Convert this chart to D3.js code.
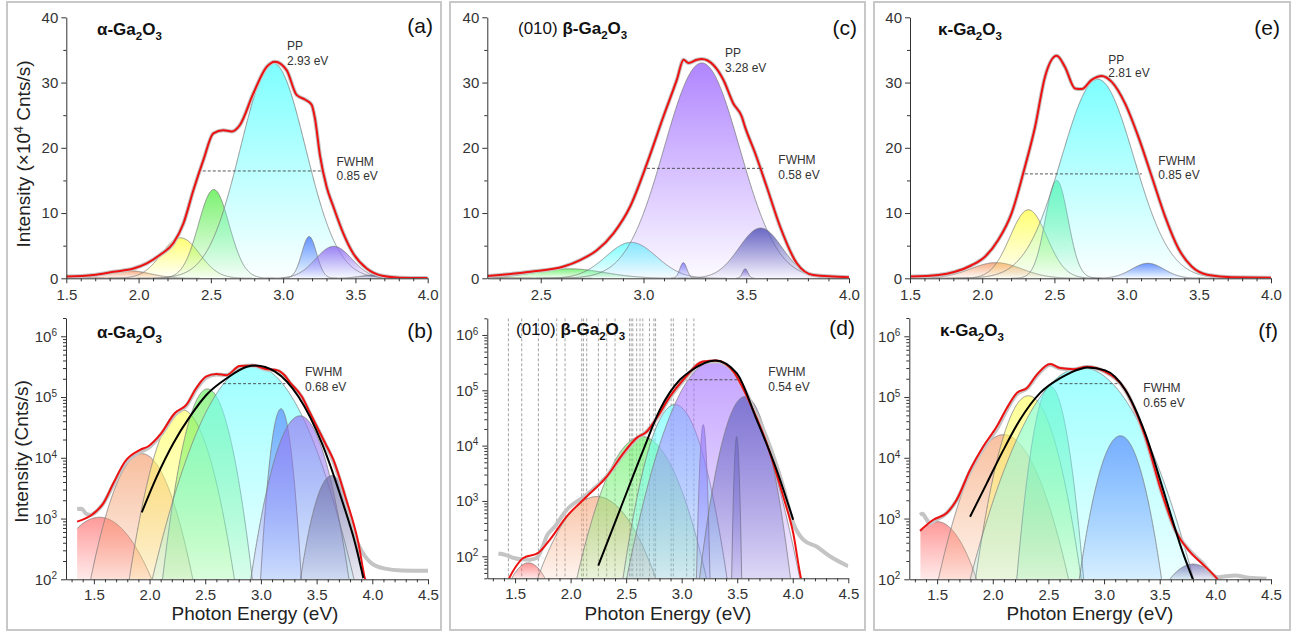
<!DOCTYPE html>
<html>
<head>
<meta charset="utf-8">
<script src="https://cdn.jsdelivr.net/npm/d3@7/dist/d3.min.js"></script>
<style>
body { margin: 0; background: #fff; }
svg { display: block; }
</style>
</head>
<body>
<div id="chart"></div>
<script>
'use strict';

var FONT = '"Liberation Sans", Arial, Helvetica, sans-serif';

// tick labels
var xTicksLin = [1.5, 2.0, 2.5, 3.0, 3.5, 4.0];
var xTicksBetaLin = [2.5, 3.0, 3.5, 4.0];
var xTicksLog = [1.5, 2.0, 2.5, 3.0, 3.5, 4.0, 4.5];
var yTicksLin = [0, 10, 20, 30, 40];
var yTicksLog = [1e2, 1e3, 1e4, 1e5, 1e6];

// fitted gaussian components: [centre eV, height Cnts/s, FWHM eV]
var alphaPeaks = [[1.55, 1050, 0.51], [1.93, 11700, 0.35], [2.29, 62000, 0.31], [2.52, 136000, 0.25],
    [2.93, 330000, 0.53], [3.18, 64000, 0.12], [3.35, 49000, 0.295], [3.635, 5100, 0.235]];
var betaPeaks = [[1.62, 76, 0.31], [2.235, 1200, 0.48], [2.64, 14600, 0.40], [2.94, 55000, 0.29],
    [3.194, 24000, 0.04], [3.284, 330000, 0.432], [3.495, 14600, 0.031], [3.57, 77000, 0.248]];
var kappaPeaks = [[1.5, 890, 0.40], [2.096, 24000, 0.416], [2.32, 105000, 0.30], [2.516, 150000, 0.185],
    [2.80, 305000, 0.59], [3.147, 23000, 0.264], [3.80, 178, 0.46]];

var alphaColors = ['#ff6a6a', '#f4a070', '#ffff66', '#6cf060', '#70ffff', '#5a88ff', '#9474f2', '#6c6ca6'];
var betaColors = ['#ff6060', '#f6aa80', '#6cf06c', '#70ffff', '#7c7cff', '#a878ff', '#8070d6', '#5c5cbc'];
var kappaColors = ['#ff6a6a', '#f5a474', '#ffff66', '#5cf090', '#70ffff', '#5a88ff', '#6464ac'];

// cumulative fits, linear panels (x10^4 Cnts/s)
var alphaFitLin = [[1.5, 0.26], [1.687, 0.5], [1.826, 1.0], [1.965, 1.5], [2.057, 2.3], [2.149, 3.6], [2.241, 5.4],
    [2.31, 8.4], [2.379, 13.5], [2.448, 18.1], [2.517, 22.2], [2.586, 22.7], [2.644, 22.5], [2.701, 23.5],
    [2.793, 28.3], [2.886, 32.4], [2.943, 33.2], [3.024, 31.9], [3.093, 28.1], [3.151, 27.4], [3.197, 26.6],
    [3.22, 24.5], [3.255, 18.8], [3.301, 14.0], [3.347, 11.0], [3.416, 6.9], [3.485, 3.8], [3.578, 1.5],
    [3.693, 0.35], [3.808, 0.1], [4.0, 0.05]];
var betaFitLin = [[2.242, 0.35], [2.449, 1.0], [2.611, 1.8], [2.692, 2.8], [2.773, 4.3], [2.854, 6.9], [2.935, 11.0],
    [3.017, 17.6], [3.097, 24.8], [3.162, 30.4], [3.195, 33.5], [3.219, 33.0], [3.26, 33.5], [3.284, 33.6],
    [3.34, 32.7], [3.389, 30.4], [3.437, 26.8], [3.478, 24.8], [3.494, 23.2], [3.543, 19.2], [3.6, 14.0],
    [3.665, 7.9], [3.746, 2.3], [3.826, 0.5], [4.0, 0.15]];
var kappaFitLin = [[1.5, 0.26], [1.696, 0.5], [1.812, 1.0], [1.927, 2.0], [2.019, 3.3], [2.112, 5.9], [2.204, 10.0],
    [2.296, 17.1], [2.366, 23.2], [2.435, 30.9], [2.516, 34.1], [2.573, 32.4], [2.643, 29.1], [2.689, 29.0],
    [2.758, 30.4], [2.827, 31.0], [2.897, 30.1], [2.989, 26.8], [3.081, 21.7], [3.174, 15.6], [3.266, 9.5],
    [3.358, 4.6], [3.451, 1.8], [3.566, 0.5], [3.728, 0.15], [4.0, 0.1]];

// log panels (Cnts/s): cumulative fit, measured spectrum, single gaussian
var alphaFitLog = [[1.35, 890], [1.495, 1200], [1.585, 1780], [1.675, 3800], [1.78, 8700], [1.915, 13500],
    [1.99, 15500], [2.095, 24000], [2.23, 55000], [2.33, 74000], [2.42, 141000], [2.51, 219000], [2.60, 240000],
    [2.69, 229000], [2.81, 324000], [2.93, 330000], [3.04, 290000], [3.15, 275000], [3.21, 230000],
    [3.26, 175000], [3.367, 102000], [3.44, 55000], [3.577, 17400], [3.65, 9300], [3.757, 2300], [3.876, 390],
    [3.935, 100], [3.95, 80]];
var alphaDataLog = [[1.35, 1430], [1.39, 1450], [1.43, 1200], [1.47, 1150], [1.53, 1350], [1.585, 1780],
    [1.675, 3600], [1.78, 8000], [1.915, 12500], [1.99, 14500], [2.095, 23000], [2.23, 52000], [2.33, 72000],
    [2.42, 135000], [2.51, 210000], [2.60, 235000], [2.69, 230000], [2.81, 315000], [2.93, 330000],
    [3.04, 285000], [3.15, 270000], [3.21, 225000], [3.26, 172000], [3.367, 100000], [3.44, 54000],
    [3.577, 17000], [3.65, 8800], [3.757, 2200], [3.85, 480], [3.90, 300], [3.95, 220], [4.0, 180],
    [4.115, 150], [4.265, 140], [4.5, 138]];
var alphaGaussLog = [[1.93, 1260], [2.065, 4900], [2.214, 17400], [2.364, 48000], [2.514, 110000],
    [2.694, 204000], [2.874, 316000], [2.95, 330000], [3.127, 263000], [3.336, 102000], [3.547, 17400],
    [3.726, 2040], [3.846, 390], [3.92, 105]];

var betaFitLog = [[1.44, 38], [1.50, 62], [1.574, 93], [1.709, 115], [1.814, 200], [1.965, 525], [2.145, 1200],
    [2.325, 2750], [2.474, 7240], [2.595, 13800], [2.685, 17800], [2.775, 31600], [2.895, 77600],
    [3.014, 155000], [3.194, 331000], [3.315, 347000], [3.464, 219000], [3.614, 59000], [3.764, 11200],
    [3.914, 1200], [4.004, 263], [4.074, 40], [4.09, 30]];
var betaDataLog = [[1.35, 112], [1.42, 105], [1.49, 93], [1.56, 88], [1.634, 87], [1.694, 93], [1.75, 150],
    [1.784, 230], [1.85, 330], [1.965, 690], [2.145, 1300], [2.325, 2800], [2.474, 7000], [2.595, 13500],
    [2.685, 18000], [2.775, 31000], [2.895, 75000], [3.014, 150000], [3.194, 320000], [3.315, 330000],
    [3.464, 225000], [3.614, 65000], [3.764, 14000], [3.914, 1800], [4.004, 400], [4.094, 200], [4.214, 150],
    [4.334, 100], [4.5, 66]];
var betaGaussLog = [[2.249, 68], [2.444, 690], [2.654, 8300], [2.804, 44700], [2.984, 155000], [3.074, 219000],
    [3.30, 347000], [3.495, 204000], [3.675, 29500], [3.855, 3630], [4.004, 457]];
var betaLevels = [1.44, 1.56, 1.71, 1.875, 1.95, 2.10, 2.115, 2.145, 2.25, 2.325, 2.40, 2.53, 2.545, 2.56,
    2.595, 2.625, 2.65, 2.71, 2.75, 2.765, 2.905, 2.925, 3.045, 3.11];

var kappaFitLog = [[1.346, 630], [1.466, 955], [1.586, 1230], [1.676, 2040], [1.796, 6300], [1.916, 15500],
    [2.037, 33000], [2.127, 66000], [2.217, 117000], [2.307, 141000], [2.397, 234000], [2.516, 350000],
    [2.606, 300000], [2.726, 288000], [2.846, 316000], [3.01, 263000], [3.19, 132000], [3.37, 22400],
    [3.52, 2630], [3.64, 645], [3.76, 300], [3.88, 182], [4.02, 100], [4.04, 90]];
var kappaDataLog = [[1.346, 1150], [1.37, 1200], [1.40, 1000], [1.436, 830], [1.466, 900], [1.586, 1230],
    [1.676, 2000], [1.796, 6000], [1.916, 14500], [2.037, 30000], [2.127, 62000], [2.217, 112000],
    [2.307, 138000], [2.397, 225000], [2.516, 340000], [2.606, 295000], [2.726, 285000], [2.846, 312000],
    [3.01, 260000], [3.19, 130000], [3.37, 22000], [3.52, 2600], [3.64, 640], [3.76, 310], [3.88, 190],
    [4.02, 108], [4.09, 112], [4.18, 115], [4.3, 106], [4.46, 102]];
var kappaGaussLog = [[1.796, 1070], [1.946, 3800], [2.096, 13500], [2.246, 42700], [2.426, 117000],
    [2.606, 204000], [2.786, 290000], [2.85, 305000], [3.01, 275000], [3.19, 132000], [3.37, 25100],
    [3.55, 2290], [3.70, 302], [3.80, 98]];

// half-maximum lines [from eV, to eV, level]
var alphaHalfLin = [2.444, 3.266, 16.45];
var betaHalfLin = [3.017, 3.583, 16.85];
var kappaHalfLin = [2.296, 3.105, 16.0];
var alphaHalfLog = [2.66, 3.22, 166000];
var betaHalfLog = [3.07, 3.52, 155000];
var kappaHalfLog = [2.60, 3.12, 166000];

var peakLabels = ['2.93 eV', '3.28 eV', '2.81 eV'];
var fwhmLin = ['0.85 eV', '0.58 eV', '0.85 eV'];
var fwhmLog = ['0.68 eV', '0.54 eV', '0.65 eV'];

var svg = d3.select('#chart').append('svg')
    .attr('width', 1301)
    .attr('height', 633)
    .style('font-family', FONT);
var defs = svg.append('defs');

// panel frames
[[7, 2, 434, 628], [450, 2, 415, 628], [874, 2, 416, 628]].forEach(function (f) {
    svg.append('rect').attr('x', f[0]).attr('y', f[1]).attr('width', f[2]).attr('height', f[3])
        .attr('fill', 'none').attr('stroke', '#c8c8c8').attr('stroke-width', 2);
});

function styleAxis(g) {
    g.selectAll('path, line').attr('stroke', '#333').attr('stroke-width', 1);
    g.selectAll('text').attr('fill', '#333').attr('font-size', 15).attr('font-family', FONT);
}

function addText(x, y, lines, dy) {
    lines.forEach(function (t, i) {
        svg.append('text').attr('x', x).attr('y', y + i * dy)
            .attr('font-size', 12).attr('fill', '#333').text(t);
    });
}

function addTitle(x, y, pre, greek) {
    var t = svg.append('text').attr('x', x).attr('y', y).attr('font-size', 17).attr('fill', '#111');
    if (pre) t.append('tspan').text(pre + ' ');
    t.append('tspan').attr('font-weight', 'bold').text(greek + '-Ga');
    t.append('tspan').attr('font-weight', 'bold').attr('font-size', 11.5).attr('dy', 4.5).text('2');
    t.append('tspan').attr('font-weight', 'bold').attr('dy', -4.5).text('O');
    t.append('tspan').attr('font-weight', 'bold').attr('font-size', 11.5).attr('dy', 4.5).text('3');
}

function drawPanel(p) {
    var L = p.box[0], R = p.box[1], T = p.box[2], B = p.box[3];
    var x = d3.scaleLinear().domain(p.xDomain).range([L, R]);
    var y = (p.log ? d3.scaleLog() : d3.scaleLinear()).domain(p.yDomain).range([B, T]);
    var ymin = p.yDomain[0];

    defs.append('clipPath').attr('id', 'clip-' + p.id)
        .append('rect').attr('x', L).attr('y', T).attr('width', R - L).attr('height', B - T);
    var plot = svg.append('g').attr('clip-path', 'url(#clip-' + p.id + ')');

    if (p.levels) {
        plot.selectAll('line.level').data(p.levels).enter().append('line')
            .attr('class', 'level')
            .attr('x1', function (d) { return x(d); })
            .attr('x2', function (d) { return x(d); })
            .attr('y1', T).attr('y2', B)
            .attr('stroke', '#8c8c8c').attr('stroke-width', 0.8).attr('stroke-dasharray', '3,2');
    }

    var xs = d3.range(p.span[0], p.span[1] + 1e-9, 0.002);
    var area = d3.area()
        .x(function (d) { return x(d[0]); })
        .y0(B)
        .y1(function (d) { return y(d[1]); });
    var line = d3.line()
        .x(function (d) { return x(d[0]); })
        .y(function (d) { return y(d[1]); });

    p.peaks.forEach(function (pk, i) {
        var pts = xs.map(function (e) {
            return [e, pk[1] / p.unit * Math.exp(-4 * Math.LN2 * Math.pow((e - pk[0]) / pk[2], 2))];
        });
        var thr = p.log ? ymin : 0.005;
        var first = -1, last = -1;
        pts.forEach(function (d, k) {
            if (d[1] > thr) { if (first < 0) first = k; last = k; }
        });
        if (first < 0) return;
        pts = pts.slice(Math.max(0, first - 1), Math.min(pts.length, last + 2)).map(function (d) {
            return [d[0], Math.max(d[1], ymin)];
        });
        var gid = 'grad-' + p.id + '-' + i;
        var grad = defs.append('linearGradient').attr('id', gid)
            .attr('x1', 0).attr('y1', 0).attr('x2', 0).attr('y2', 1);
        grad.append('stop').attr('offset', 0).attr('stop-color', p.colors[i])
            .attr('stop-opacity', p.log ? 0.68 : 0.9);
        grad.append('stop').attr('offset', 1).attr('stop-color', p.colors[i])
            .attr('stop-opacity', p.log ? 0.14 : 0.03);
        plot.append('path').attr('d', area(pts)).attr('fill', 'url(#' + gid + ')');
        plot.append('path').attr('d', line(pts)).attr('fill', 'none')
            .attr('stroke', '#7a7a7a').attr('stroke-width', 0.9).attr('stroke-opacity', 0.85);
    });

    var curve = d3.line().curve(d3.curveMonotoneX)
        .x(function (d) { return x(d[0]); })
        .y(function (d) { return y(d[1]); });

    plot.append('path').attr('d', curve(p.data)).attr('fill', 'none')
        .attr('stroke', '#c4c4c4').attr('stroke-width', 4).attr('stroke-linejoin', 'round');
    plot.append('path').attr('d', curve(p.fit)).attr('fill', 'none')
        .attr('stroke', '#ee1111').attr('stroke-width', 2);
    if (p.gauss) {
        plot.append('path').attr('d', curve(p.gauss)).attr('fill', 'none')
            .attr('stroke', '#000').attr('stroke-width', 2);
    }
    plot.append('line')
        .attr('x1', x(p.half[0])).attr('x2', x(p.half[1]))
        .attr('y1', y(p.half[2])).attr('y2', y(p.half[2]))
        .attr('stroke', '#444').attr('stroke-width', 0.9).attr('stroke-dasharray', '3,2');

    // x axis
    var xMinor = d3.range(Math.ceil(p.xDomain[0] * 10 - 1e-6), Math.floor(p.xDomain[1] * 10 + 1e-6) + 1)
        .map(function (k) { return k / 10; })
        .filter(function (v) { return p.xTicks.every(function (t) { return Math.abs(t - v) > 1e-6; }); });
    svg.append('g').attr('transform', 'translate(0,' + B + ')')
        .call(d3.axisBottom(x).tickValues(xMinor).tickSize(3).tickFormat(''))
        .call(function (g) { g.select('.domain').remove(); })
        .call(styleAxis);
    svg.append('g').attr('transform', 'translate(0,' + B + ')')
        .call(d3.axisBottom(x).tickValues(p.xTicks).tickSize(5).tickSizeOuter(0)
            .tickPadding(p.log ? 5 : 6).tickFormat(d3.format('.1f')))
        .call(styleAxis);

    // y axis
    var yMinor, yMajor;
    if (p.log) {
        yMajor = yTicksLog;
        yMinor = [];
        for (var dec = 1; dec <= 6; dec++) {
            for (var k = 2; k <= 9; k++) {
                var v = k * Math.pow(10, dec);
                if (v >= p.yDomain[0] && v <= p.yDomain[1]) yMinor.push(v);
            }
        }
    } else {
        yMajor = yTicksLin;
        yMinor = [5, 15, 25, 35];
    }
    svg.append('g').attr('transform', 'translate(' + L + ',0)')
        .call(d3.axisLeft(y).tickValues(yMinor).tickSize(3).tickFormat(''))
        .call(function (g) { g.select('.domain').remove(); })
        .call(styleAxis);
    var ya = svg.append('g').attr('transform', 'translate(' + L + ',0)')
        .call(d3.axisLeft(y).tickValues(yMajor).tickSize(5).tickSizeOuter(0)
            .tickPadding(p.log ? 4 : 3).tickFormat(p.log ? function () { return '10'; } : d3.format('d')))
        .call(styleAxis);
    if (p.log) {
        ya.selectAll('.tick text').each(function (d) {
            d3.select(this).append('tspan').attr('dy', '-0.55em').attr('font-size', 10)
                .text(Math.round(Math.log10(d)));
        });
    }

    addTitle(p.title[0], p.title[1], p.title[2], p.title[3]);
    svg.append('text').attr('x', p.letter[0]).attr('y', p.letter[1]).attr('text-anchor', 'end')
        .attr('font-size', 21).attr('fill', '#111').text(p.letter[2]);
    if (p.pp) addText(p.pp[0], p.pp[1], ['PP', p.pp[2]], p.pp[3]);
    addText(p.fw[0], p.fw[1], ['FWHM', p.fw[2]], p.fw[3]);
}

var panels = [
    { id: 'a', box: [66.3, 427.7, 17.3, 278.3], xDomain: [1.5, 4.0], yDomain: [0, 40], log: false, unit: 1e4,
      span: [1.5, 4.0], xTicks: xTicksLin, peaks: alphaPeaks, colors: alphaColors,
      fit: alphaFitLin, data: alphaFitLin, half: alphaHalfLin,
      title: [97, 35, '', '\u03b1'], letter: [433, 33, '(a)'],
      pp: [287, 49.5, peakLabels[0], 15], fw: [336.5, 165.5, fwhmLin[0], 14.5] },
    { id: 'b', box: [66, 428, 318, 579.3], xDomain: [1.25, 4.5], yDomain: [100, 2e6], log: true, unit: 1,
      span: [1.35, 4.5], xTicks: xTicksLog, peaks: alphaPeaks, colors: alphaColors,
      fit: alphaFitLog, data: alphaDataLog, gauss: alphaGaussLog, half: alphaHalfLog,
      title: [97, 338, '', '\u03b1'], letter: [433, 337.5, '(b)'],
      fw: [305, 376, fwhmLog[0], 15] },
    { id: 'c', box: [487.3, 849, 17.3, 278.3], xDomain: [2.24, 4.0], yDomain: [0, 40], log: false, unit: 1e4,
      span: [2.24, 4.0], xTicks: xTicksBetaLin, peaks: betaPeaks, colors: betaColors,
      fit: betaFitLin, data: betaFitLin, half: betaHalfLin,
      title: [518, 34, '(010)', '\u03b2'], letter: [857, 34.5, '(c)'],
      pp: [725, 56.7, peakLabels[1], 15.5], fw: [778.3, 164.3, fwhmLin[1], 14.7] },
    { id: 'd', box: [487.3, 848.3, 318.3, 578.3], xDomain: [1.25, 4.5], yDomain: [40, 2e6], log: true, unit: 1,
      span: [1.35, 4.5], xTicks: xTicksLog, peaks: betaPeaks, colors: betaColors,
      fit: betaFitLog, data: betaDataLog, gauss: betaGaussLog, half: betaHalfLog, levels: betaLevels,
      title: [516, 335, '(010)', '\u03b2'], letter: [855, 335, '(d)'],
      fw: [768.3, 376, fwhmLog[1], 15] },
    { id: 'e', box: [910, 1271, 17.3, 278.3], xDomain: [1.5, 4.0], yDomain: [0, 40], log: false, unit: 1e4,
      span: [1.5, 4.0], xTicks: xTicksLin, peaks: kappaPeaks, colors: kappaColors,
      fit: kappaFitLin, data: kappaFitLin, half: kappaHalfLin,
      title: [938, 35, '', '\u03ba'], letter: [1280, 35, '(e)'],
      pp: [1108.3, 64.3, peakLabels[2], 12.4], fw: [1158.3, 165, fwhmLin[2], 14] },
    { id: 'f', box: [909.3, 1271, 318, 579.3], xDomain: [1.25, 4.5], yDomain: [100, 2e6], log: true, unit: 1,
      span: [1.35, 4.5], xTicks: xTicksLog, peaks: kappaPeaks, colors: kappaColors,
      fit: kappaFitLog, data: kappaDataLog, gauss: kappaGaussLog, half: kappaHalfLog,
      title: [940, 336, '', '\u03ba'], letter: [1278, 337.5, '(f)'],
      fw: [1143.3, 391.7, fwhmLog[2], 15] }
];

panels.forEach(drawPanel);

// axis titles
var yt1 = svg.append('text').attr('transform', 'translate(29.5,154) rotate(-90)')
    .attr('text-anchor', 'middle').attr('font-size', 19).attr('fill', '#222');
yt1.append('tspan').text('Intensity (\u00d710');
yt1.append('tspan').attr('font-size', 12.5).attr('dy', -7).text('4');
yt1.append('tspan').attr('dy', 7).text(' Cnts/s)');

svg.append('text').attr('transform', 'translate(28,451.5) rotate(-90)')
    .attr('text-anchor', 'middle').attr('font-size', 19).attr('fill', '#222')
    .text('Intensity (Cnts/s)');

[255, 668, 1090].forEach(function (cx) {
    svg.append('text').attr('x', cx).attr('y', 620).attr('text-anchor', 'middle')
        .attr('font-size', 19).attr('fill', '#222').text('Photon Energy (eV)');
});
</script>
</body>
</html>
